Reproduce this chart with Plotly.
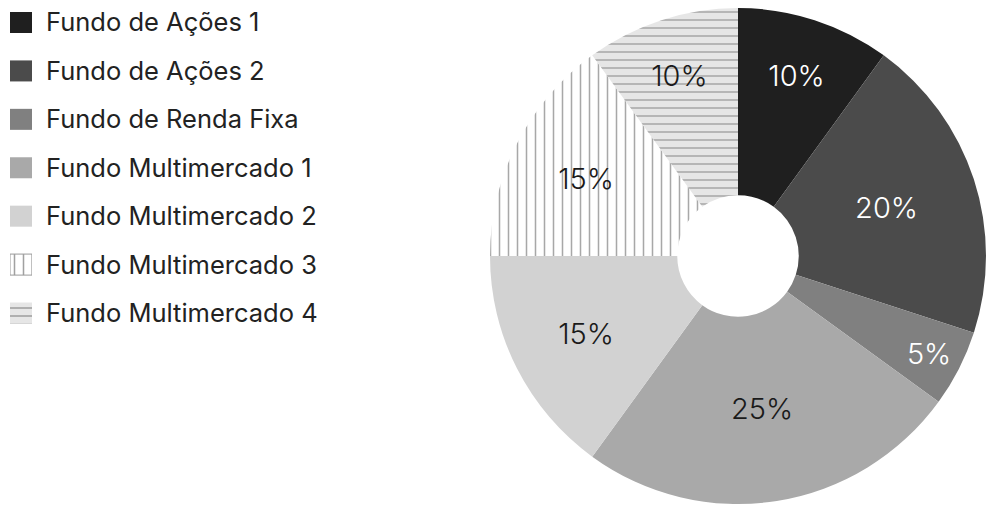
import plotly.graph_objects as go

# Portfolio allocation by fund
funds = [
    "Fundo de Ações 1",
    "Fundo de Ações 2",
    "Fundo de Renda Fixa",
    "Fundo Multimercado 1",
    "Fundo Multimercado 2",
    "Fundo Multimercado 3",
    "Fundo Multimercado 4",
]
shares = [10, 20, 5, 25, 15, 15, 10]

fills = ["#1f1f1f", "#4b4b4b", "#808080", "#a9a9a9", "#d2d2d2", "#ffffff", "#e6e6e6"]
hatch = ["", "", "", "", "", "|", "-"]
hatch_fg = ["#000", "#000", "#000", "#000", "#000", "#a8a8a8", "#a0a0a0"]
hatch_size = [8, 8, 8, 8, 8, 9, 8]
label_colors = ["#ffffff", "#ffffff", "#ffffff", "#1a1a1a", "#1a1a1a", "#1a1a1a", "#1a1a1a"]

W, H = 986, 512
FONT = "Inter, Lato, sans-serif"

pattern = dict(
    shape=hatch,
    fgcolor=hatch_fg,
    bgcolor=fills,
    size=hatch_size,
    solidity=0.17,
)

fig = go.Figure()

# Donut
fig.add_trace(go.Pie(
    labels=funds,
    values=shares,
    sort=False,
    direction="clockwise",
    rotation=0,
    hole=0.245,
    marker=dict(colors=fills, pattern=pattern, line=dict(width=0)),
    texttemplate="%{value}%",
    textposition="inside",
    insidetextorientation="horizontal",
    insidetextfont=dict(family=FONT, size=29, color=label_colors, weight=300),
    domain=dict(x=[490 / W, 1.0], y=[0.0, 1.0]),
    showlegend=False,
))

# Legend swatches, one per fund, with fund names as axis labels
rows = list(range(len(funds)))
fig.add_trace(go.Bar(
    x=[1] * len(funds),
    y=rows,
    orientation="h",
    width=0.434,
    marker=dict(
        color=fills,
        pattern=pattern,
        line=dict(width=[0, 0, 0, 0, 0, 1, 0], color="#9a9a9a"),
    ),
    xaxis="x",
    yaxis="y",
    showlegend=False,
    hoverinfo="skip",
))

fig.update_layout(
    width=W,
    height=H,
    margin=dict(l=0, r=0, t=0, b=0),
    paper_bgcolor="#ffffff",
    plot_bgcolor="rgba(0,0,0,0)",
    font=dict(family=FONT, color="#222222"),
    xaxis=dict(
        domain=[10 / W, 32 / W],
        range=[0, 1],
        visible=False,
        fixedrange=True,
    ),
    yaxis=dict(
        domain=[0, 1],
        range=[10.11, -0.465],
        side="right",
        tickvals=rows,
        ticktext=funds,
        ticks="",
        ticklabelstandoff=13,
        showgrid=False,
        zeroline=False,
        showline=False,
        tickfont=dict(family=FONT, size=25.5, color="#222222", weight=400),
        fixedrange=True,
    ),
)

fig.write_html("out.html")
